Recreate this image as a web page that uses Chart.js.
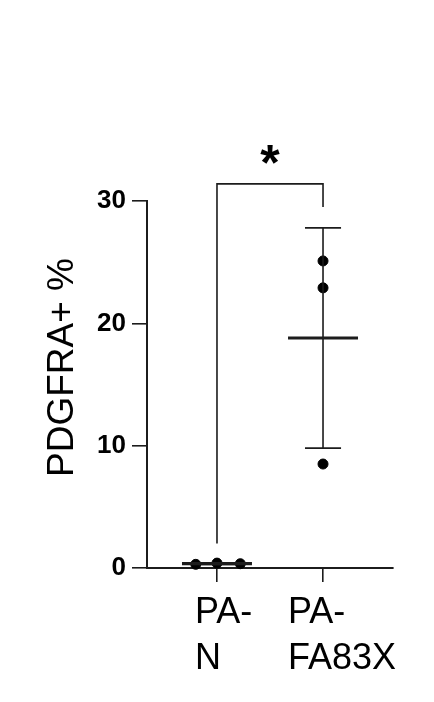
<!DOCTYPE html>
<html><head><meta charset="utf-8">
<script src="https://cdn.jsdelivr.net/npm/chart.js@4"></script>
<style>html,body{margin:0;padding:0;background:#fff;}</style>
</head><body>
<canvas id="c" width="434" height="702" style="width:434px;height:702px;display:block"></canvas>
<script>
// ---- data ----
const categories = ['PA-N', 'PA-FA83X'];
const labelLines = [['PA-', 'N'], ['PA-', 'FA83X']];
const paNValues = [0.3, 0.4, 0.35];
const paNJitter = [-0.2, 0, 0.22];
const paFAValues = [25.1, 22.9, 8.5];
const paFAJitter = [0, 0, 0];
const groupMeans = [0.35, 18.8];
const groupSDs = [0.05, 9.0];
const yTickValues = [0, 10, 20, 30];
const bracketLevels = [2.0, 31.4, 31.4, 29.5]; // left foot, top, top, right foot
const sigText = '*';
const yTitle = 'PDGFRA+ %';

const INK = '#1c1c1c';
const FONT = '"Liberation Sans", Arial, sans-serif';
const groups = [
  {values: paNValues, jitter: paNJitter},
  {values: paFAValues, jitter: paFAJitter}
];

const datasets = [];
groupMeans.forEach((m, i) => {
  const c = i + 1;
  datasets.push({type: 'scatter', showLine: true, data: [{x: c - 0.33, y: m}, {x: c + 0.33, y: m}],
    borderColor: INK, borderWidth: 3.2, pointRadius: 0, clip: false});
  datasets.push({type: 'scatter', showLine: true, data: [{x: c, y: m - groupSDs[i]}, {x: c, y: m + groupSDs[i]}],
    borderColor: INK, borderWidth: 1.6, pointRadius: 0, clip: false});
  [m - groupSDs[i], m + groupSDs[i]].forEach(v => {
    datasets.push({type: 'scatter', showLine: true, data: [{x: c - 0.17, y: v}, {x: c + 0.17, y: v}],
      borderColor: INK, borderWidth: 1.6, pointRadius: 0, clip: false});
  });
});
groups.forEach((g, i) => {
  datasets.push({type: 'scatter', data: g.values.map((v, j) => ({x: i + 1 + g.jitter[j], y: v})),
    backgroundColor: '#000', borderColor: '#000', pointRadius: 5, pointHoverRadius: 5, clip: false});
});
datasets.push({type: 'scatter', showLine: true,
  data: [{x: 1, y: bracketLevels[0]}, {x: 1, y: bracketLevels[1]}, {x: 2, y: bracketLevels[2]}, {x: 2, y: bracketLevels[3]}],
  borderColor: INK, borderWidth: 1.6, pointRadius: 0, clip: false, tension: 0});

const overlay = {
  id: 'overlay',
  afterDraw(chart) {
    const ctx = chart.ctx, xs = chart.scales.x, ys = chart.scales.y;
    ctx.save();
    ctx.fillStyle = '#000';
    // category labels
    ctx.font = '36px ' + FONT;
    ctx.textAlign = 'left';
    ctx.textBaseline = 'alphabetic';
    const shifts = [-22, -35];
    labelLines.forEach((lines, i) => {
      const x0 = xs.getPixelForValue(i + 1) + shifts[i];
      lines.forEach((t, k) => ctx.fillText(t, x0, xs.top + 55 + k * 46));
    });
    // y title
    ctx.save();
    ctx.translate(ys.left + 73, ys.getPixelForValue(15) - 17);
    ctx.rotate(-Math.PI / 2);
    ctx.font = '37px ' + FONT;
    ctx.textAlign = 'center';
    ctx.textBaseline = 'alphabetic';
    ctx.fillText(yTitle, 0, 0);
    ctx.restore();
    // significance star
    ctx.font = 'bold 50px ' + FONT;
    ctx.textAlign = 'center';
    ctx.textBaseline = 'middle';
    ctx.fillText(sigText, xs.getPixelForValue(1.5), ys.getPixelForValue(bracketLevels[1]) - 18);
    ctx.restore();
  }
};

new Chart(document.getElementById('c'), {
  type: 'scatter',
  data: {datasets},
  plugins: [overlay],
  options: {
    responsive: false,
    animation: false,
    events: [],
    layout: {padding: {top: 201, right: 41, left: 0, bottom: 0}},
    plugins: {legend: {display: false}, tooltip: {enabled: false}},
    scales: {
      x: {
        type: 'linear', min: 0.34, max: 2.66,
        afterBuildTicks: s => { s.ticks = categories.map((c, i) => ({value: i + 1})); },
        afterFit: s => { s.height = 134; },
        ticks: {display: false},
        grid: {drawOnChartArea: false, drawTicks: true, tickLength: 14, color: INK, lineWidth: 1.6},
        border: {display: true, color: INK, width: 2}
      },
      y: {
        min: 0, max: 30,
        afterBuildTicks: s => { s.ticks = yTickValues.map(v => ({value: v})); },
        afterFit: s => { s.width = 147; },
        ticks: {color: '#000', padding: 6, font: {family: FONT, size: 26, weight: 'bold'}},
        grid: {drawOnChartArea: false, drawTicks: true, tickLength: 15, color: INK, lineWidth: 1.6},
        border: {display: true, color: INK, width: 2},
        title: {display: false, text: yTitle}
      }
    }
  }
});
</script>
</body></html>
